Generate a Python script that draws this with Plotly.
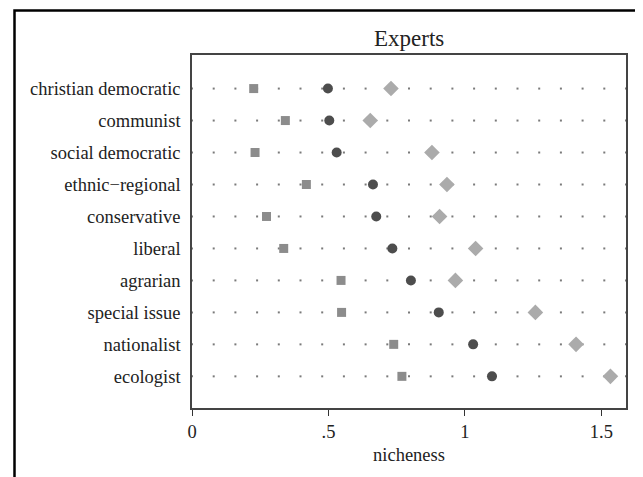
import plotly.graph_objects as go

categories = ["christian democratic", "communist", "social democratic", "ethnic\u2212regional",
              "conservative", "liberal", "agrarian", "special issue", "nationalist", "ecologist"]
series_square = [0.226, 0.342, 0.231, 0.419, 0.273, 0.336, 0.546, 0.548, 0.739, 0.769]
series_circle = [0.498, 0.503, 0.530, 0.663, 0.675, 0.734, 0.802, 0.904, 1.030, 1.099]
series_diamond = [0.729, 0.653, 0.879, 0.934, 0.907, 1.039, 0.965, 1.258, 1.407, 1.533]
x_ticks = [0, 0.5, 1, 1.5]
x_tick_labels = ["0", ".5", "1", "1.5"]

W, H = 643, 477
OFF = 8  # page body margin offset
L, R, T, B = 184, 25, 47, 77
XMAX = 1.59
NDOTS = 21

font = "Liberation Serif, Times New Roman, serif"

fig = go.Figure()

# dotted guide lines
dx, dy = [], []
for c in categories:
    for k in range(NDOTS):
        dx.append(XMAX * k / (NDOTS - 1))
        dy.append(c)
fig.add_trace(go.Scatter(x=dx, y=dy, mode="markers",
                         marker=dict(symbol="square", size=2, color="#7a7a7a", line=dict(width=0)),
                         hoverinfo="skip", showlegend=False, cliponaxis=False))

fig.add_trace(go.Scatter(x=series_square, y=categories, mode="markers",
                         marker=dict(symbol="square", size=9, color="#8c8c8c", line=dict(width=0)),
                         showlegend=False))
fig.add_trace(go.Scatter(x=series_circle, y=categories, mode="markers",
                         marker=dict(symbol="circle", size=10, color="#4d4d4d", line=dict(width=0)),
                         showlegend=False))
fig.add_trace(go.Scatter(x=series_diamond, y=categories, mode="markers",
                         marker=dict(symbol="diamond", size=12, color="#ababab", line=dict(width=0)),
                         showlegend=False))

pw = W - L - R
ph = H - T - B
def px_to_paper_x(px):
    return (px - OFF - L) / pw
def px_to_paper_y(py):
    return (H - B - (py - OFF)) / ph

fig.add_shape(type="rect", xref="paper", yref="paper",
              x0=px_to_paper_x(14.5), x1=px_to_paper_x(700),
              y0=px_to_paper_y(520), y1=px_to_paper_y(10.5),
              line=dict(color="black", width=2.5), layer="below")

fig.add_annotation(text="Experts", xref="paper", yref="paper", x=0.5,
                   y=px_to_paper_y(53), yanchor="bottom", showarrow=False,
                   font=dict(family=font, size=23, color="#222"))

fig.update_layout(
    width=W, height=H,
    margin=dict(l=L, r=R, t=T, b=B),
    paper_bgcolor="white", plot_bgcolor="white",
    font=dict(family=font, size=18.5, color="#222"),
    xaxis=dict(range=[0, XMAX], tickvals=x_ticks, ticktext=x_tick_labels,
               ticks="outside", ticklen=6, tickwidth=1.2, tickcolor="#333",
               showline=True, linecolor="#444", linewidth=1.5, mirror=True,
               showgrid=False, zeroline=False, ticklabelstandoff=0,
               title=dict(text="nicheness", font=dict(family=font, size=18.5), standoff=7),
               tickfont=dict(family=font, size=18.5)),
    yaxis=dict(type="category", categoryorder="array", categoryarray=categories,
               range=[9.99, -1.05],
               showline=True, linecolor="#444", linewidth=1.5, mirror=True,
               showgrid=False, zeroline=False, ticks="", ticklen=0, ticklabelstandoff=6,
               tickfont=dict(family=font, size=18.5)),
)

fig.write_html("out.html")
